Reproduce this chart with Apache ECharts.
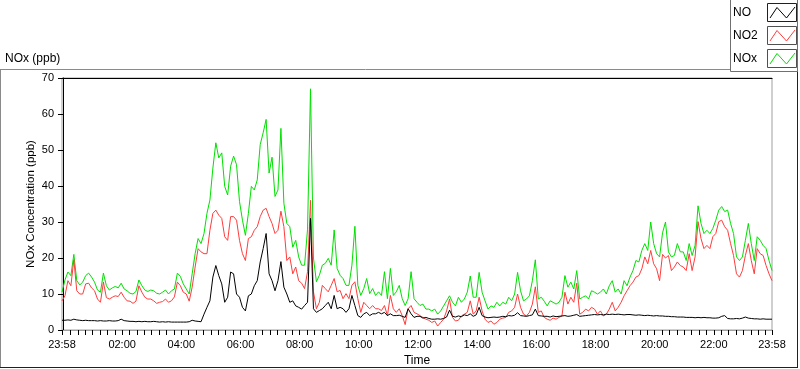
<!DOCTYPE html>
<html>
<head>
<meta charset="utf-8">
<script src="https://cdn.jsdelivr.net/npm/echarts@6/dist/echarts.min.js"></script>
<style>
html,body{margin:0;padding:0;background:#fff;}
#c{width:800px;height:369px;}
</style>
</head>
<body>
<div id="c"></div>
<script>
// Time grid: minutes from midnight, first sample at 23:58 (-2), one sample every 6 min
const T_START = -2;
const T_STEP = 6;
const xLabelValues = [-2, 120, 240, 360, 480, 600, 720, 840, 960, 1080, 1200, 1320, 1438];
const yTicks = [0, 10, 20, 30, 40, 50, 60, 70];
const seriesNames = ['NO', 'NO2', 'NOx'];

const NOx = [
 10.5, 13.9, 16.1, 15.1, 21, 13.7, 12.5, 13.3, 15.1, 15.8,
 14.7, 13.3, 11.1, 10.5, 15.8, 12.3, 11.1, 11.7, 12.1, 11.7,
 13.0, 11.4, 10.9, 10.2, 10.0, 10.7, 13.9, 12.3, 11.1, 10.7,
 11.1, 10.9, 10.2, 10.0, 10.5, 11.1, 10.0, 10.9, 11.4, 15.8,
 14.9, 12.8, 11.4, 10, 15.6, 21.2, 25.4, 24, 26.8, 32.4,
 36.1, 45, 52, 47.8, 49.2, 39.9, 37.5, 45.5, 48.3, 45.9,
 35.7, 30.5, 26.3, 32.4, 39.9, 38.9, 41.7, 51.5, 54.8, 58.5,
 43.6, 48, 37.1, 38.9, 56, 35.2, 29.6, 28.7, 23, 24.9,
 20.3, 18, 18, 28, 67, 20, 13.4, 15.2, 18, 18.5,
 19.9, 18, 27.8, 17.1, 15.2, 14.3, 12.4, 12.4, 18, 28.8,
 12.4, 9.6, 11.5, 14.3, 10.1, 11.5, 9.6, 10.6, 9.6, 16.2,
 8.7, 17.1, 9.6, 10.6, 12.4, 8.7, 6.8, 8.7, 16.2, 8.7,
 7.7, 6.8, 7.2, 5.8, 5.8, 5.3, 5.8, 4.4, 5.3, 6.7,
 8.1, 9.5, 7.7, 6.7, 9.1, 7.7, 8.6, 10.5, 15, 9.1,
 9.1, 16, 10.5, 8.1, 5.8, 6.7, 6.3, 7.7, 6.7, 7.7,
 7.2, 9.1, 8.1, 10, 16, 10.9, 8.1, 8.6, 9.5, 13.7,
 19.5, 8.6, 9.1, 8, 6.7, 8.1, 7.7, 7.2, 7.7, 9.1,
 15.1, 11.9, 13.3, 11.4, 16.5, 8.6, 9.1, 9.5, 8.6, 10.9,
 10.5, 10, 10.5, 11.4, 10, 12.3, 13.7, 10.5, 11.4, 10,
 13.7, 12.3, 14.7, 16.5, 19.3, 18.9, 22.1, 24, 22.1, 30,
 24, 21.2, 20.3, 27, 30, 21.7, 20.3, 20.7, 24, 21.7,
 21.7, 19.3, 24, 20.7, 23.5, 34.5, 29.6, 26.8, 27.7, 26.8,
 28.2, 30.5, 33.3, 34.3, 32.9, 33.3, 29.6, 26.8, 20.3, 19.3,
 20.3, 24.9, 29.6, 24, 19.3, 25.9, 24.9, 23.5, 22.6, 19.3,
 16.5
];

const NO2 = [
 8.1, 9.5, 13.7, 12.3, 19.5, 10.9, 10, 10, 12.8, 13,
 11.7, 10.9, 8.6, 7.7, 13.3, 9, 8.6, 9.1, 9.5, 9.3,
 10.5, 9.1, 8.1, 8, 7.4, 8, 12.3, 10.5, 9.1, 8.6,
 8.6, 8.1, 7.4, 7.7, 7.9, 8.6, 7.7, 8.1, 9.2, 13.3,
 12.3, 10.5, 10, 8, 11.9, 17.5, 22.6, 21.7, 21.2, 21.2,
 27.7, 32.4, 33.3, 31.9, 31, 25.9, 24.9, 31.5, 31.5, 30.5,
 24.9, 21.2, 19.3, 25.4, 25.9, 27.7, 28.7, 31.5, 33.3, 33.8,
 31.5, 29.6, 26.8, 27.7, 33, 28.7, 19.3, 20.3, 15.6, 17.5,
 13.7, 13, 11.5, 16.2, 36, 10.6, 5.9, 7.7, 12.4, 11.5,
 10.6, 12.4, 14.3, 10.6, 11, 8.7, 10.1, 8.7, 12.4, 13.4,
 8.7, 4.9, 7.7, 6.8, 5.9, 6.8, 5.9, 5.9, 5.4, 6.8,
 4, 9.6, 5.9, 4.9, 5.9, 4, 1.5, 5.9, 6.8, 4.9,
 4.5, 4, 3.5, 3, 2.7, 2.1, 2.5, 1.1, 2.1, 3,
 5.3, 8.6, 3.5, 2.5, 2.7, 3.9, 4.4, 4.9, 8.1, 4.4,
 5.3, 9.1, 5.3, 3, 2.1, 2.5, 1.6, 2.1, 3, 3.3,
 3.5, 4.9, 5.3, 6.3, 10, 6.3, 4.4, 3.9, 4.9, 7.2,
 12, 4.9, 5.3, 3.5, 3, 2.7, 3.3, 3, 3.5, 3.9,
 10.5, 7.2, 9.1, 7.7, 13, 4.4, 4.9, 5.8, 5.3, 6.3,
 5.8, 4.4, 5.3, 3.9, 4.4, 5.8, 7.7, 5.3, 6.3, 7.7,
 9.5, 10.9, 12.3, 13.3, 14.7, 15.1, 17, 20.3, 18.4, 22.1,
 18.4, 17, 13.7, 21, 20, 20.7, 16.5, 17.5, 18.9, 17.9,
 17.5, 16.5, 21.2, 16.5, 20.3, 30.1, 25.4, 22.6, 23.5, 22.6,
 25.9, 26.8, 30.1, 30.5, 28.7, 27.7, 24, 20.7, 15.6, 14.7,
 16.5, 20.7, 24, 19.3, 15.6, 22.6, 21.2, 20.7, 17.9, 15.6,
 13.7
];

const NO = [
 2.7, 2.7, 2.8, 2.7, 3.0, 2.8, 2.7, 2.6, 2.7, 2.6,
 2.6, 2.6, 2.5, 2.6, 2.5, 2.5, 2.6, 2.5, 2.5, 2.6,
 3.0, 2.6, 2.5, 2.4, 2.4, 2.3, 2.4, 2.3, 2.4, 2.3,
 2.3, 2.4, 2.3, 2.2, 2.3, 2.2, 2.3, 2.2, 2.2, 2.2,
 2.2, 2.2, 2.2, 2.3, 2.7, 2.5, 2.4, 2.3, 4.4, 6.3,
 8.1, 14.7, 17.9, 15.1, 12.8, 7.7, 9.1, 16.1, 15.6, 10,
 9.1, 6.3, 5.3, 9.5, 10, 12.3, 13.7, 18.9, 22.6, 26.8,
 15.6, 13.7, 10.9, 13.7, 19, 11.9, 10, 7.7, 8.1, 6.7,
 6.3, 5.8, 6.8, 7.7, 31, 5.9, 4.9, 5.4, 5.9, 6.8,
 7.7, 5.9, 9.6, 5.9, 6.3, 5.9, 4.9, 5.9, 9.6, 6.8,
 4, 3.5, 4.5, 4.9, 4, 4.5, 4.5, 4.9, 4.5, 4.9,
 4, 4.5, 4, 4, 4.1, 3.8, 3.5, 5.9, 4.5, 3.5,
 3.8, 3.8, 3.3, 3.5, 3.2, 3.0, 3.0, 3.1, 3.0, 3.2,
 3.6, 5.5, 3.8, 3.6, 3.9, 3.7, 4.2, 4.0, 4.5, 3.8,
 4.2, 6.3, 4.0, 3.6, 3.4, 3.5, 3.6, 3.5, 3.6, 3.8,
 3.7, 4.0, 3.9, 4.1, 4.8, 4.0, 3.9, 3.8, 4.0, 4.2,
 5.8, 4.0, 3.9, 3.8, 3.8, 3.6, 3.9, 3.7, 3.8, 3.9,
 4.0, 3.8, 3.9, 4.1, 4.3, 3.8, 3.9, 4.0, 4.1, 4.2,
 4.3, 4.2, 4.3, 4.2, 4.4, 4.3, 4.4, 4.3, 4.4, 4.3,
 4.2, 4.3, 4.3, 4.2, 4.1, 4.2, 4.1, 4.0, 4.1, 4.0,
 3.9, 4.0, 3.9, 3.9, 3.8, 3.8, 3.7, 3.7, 3.6, 3.6,
 3.6, 3.5, 3.5, 3.5, 3.4, 3.5, 3.4, 3.5, 3.4, 3.4,
 3.3, 3.3, 3.4, 3.8, 4.0, 3.2, 3.1, 3.1, 3.2, 3.1,
 3.3, 3.6, 3.3, 3.2, 3.1, 3.1, 3.0, 3.1, 3.0, 3.0,
 3.0
];

function toPairs(vals) {
  return vals.map((v, i) => [T_START + i * T_STEP, v]);
}
function pad(n) { return (n < 10 ? '0' : '') + n; }
function fmtTime(v) {
  if (v < 0 || v >= 1438) return '23:58';
  return pad(Math.floor(v / 60)) + ':' + pad(v % 60);
}
const tickValues = [-2];
for (let m = 15; m < 1438; m += 15) tickValues.push(m);
tickValues.push(1438);

const FONT = 'Liberation Sans';
const chart = echarts.init(document.getElementById('c'), null, {renderer: 'canvas'});

const swatchY = [3.5, 26.5, 49.5];
const colors = {NO: '#000000', NO2: '#ff3c3c', NOx: '#00e000'};
const legendGraphics = [];
legendGraphics.push({type: 'rect', shape: {x: 730.5, y: -1, width: 67, height: 72.5},
  style: {fill: '#fff', stroke: '#707070', lineWidth: 1}, z: 100});
seriesNames.forEach((n, k) => {
  const y0 = swatchY[k];
  legendGraphics.push({type: 'rect', shape: {x: 767.5, y: y0, width: 29, height: 18},
    style: {fill: '#fff', stroke: k === 0 ? '#202020' : '#505050', lineWidth: 1}, z: 101});
  legendGraphics.push({type: 'polyline', shape: {points: [[770, y0 + 14.5], [777, y0 + 4], [786.5, y0 + 14.5], [795, y0 + 3.5]]},
    style: {stroke: colors[n], lineWidth: 1, fill: null}, z: 102});
  legendGraphics.push({type: 'text', x: 733, y: y0 + 9.5,
    style: {text: n, fill: '#000', font: '12px "' + FONT + '"', textVerticalAlign: 'middle', textAlign: 'left'}, z: 102});
});

const option = {
  animation: false,
  backgroundColor: '#ffffff',
  textStyle: {fontFamily: FONT},
  graphic: [
    {type: 'line', shape: {x1: 0, y1: 69.5, x2: 731, y2: 69.5}, style: {stroke: '#8a8a8a', lineWidth: 1}, z: 50},
    {type: 'line', shape: {x1: 0.5, y1: 69.5, x2: 0.5, y2: 367.5}, style: {stroke: '#8a8a8a', lineWidth: 1}, z: 50},
    {type: 'line', shape: {x1: 0, y1: 367.5, x2: 798, y2: 367.5}, style: {stroke: '#202020', lineWidth: 1}, z: 50},
    {type: 'line', shape: {x1: 797.5, y1: 71, x2: 797.5, y2: 368}, style: {stroke: '#202020', lineWidth: 1}, z: 50},
    {type: 'text', x: 5, y: 58.5, style: {text: 'NOx (ppb)', fill: '#000', font: '12px "' + FONT + '"', textVerticalAlign: 'middle'}, z: 50}
  ].concat(legendGraphics),
  grid: {left: 62, right: 28, top: 78, bottom: 39, show: true, borderColor: '#a0a0a0', borderWidth: 1,
    backgroundColor: '#fff', containLabel: false, outerBoundsMode: 'none'},
  xAxis: [{
    type: 'value', min: -2, max: 1438, position: 'bottom',
    name: 'Time', nameLocation: 'middle', nameGap: 25, nameMoveOverlap: false,
    nameTextStyle: {color: '#000', fontSize: 12, fontFamily: FONT},
    axisLine: {show: true, lineStyle: {color: '#a0a0a0', width: 1}},
    axisTick: {show: true, customValues: tickValues, length: 5, lineStyle: {color: '#000'}},
    axisLabel: {customValues: xLabelValues, formatter: fmtTime, color: '#000', fontSize: 11, fontFamily: FONT, margin: 9},
    splitLine: {show: false}
  }, {
    type: 'value', min: -2, max: 1438, position: 'top',
    axisLine: {show: true, lineStyle: {color: '#000', width: 1}},
    axisTick: {show: false}, axisLabel: {show: false}, splitLine: {show: false}
  }],
  yAxis: {
    type: 'value', min: 0, max: 70, interval: 10,
    name: 'NOx Concentration (ppb)', nameLocation: 'middle', nameGap: 25, nameRotate: 90, nameMoveOverlap: false,
    nameTextStyle: {color: '#000', fontSize: 11.5, fontFamily: FONT},
    axisLine: {show: true, lineStyle: {color: '#000', width: 1}},
    axisTick: {show: true, length: 5, lineStyle: {color: '#000'}},
    axisLabel: {color: '#000', fontSize: 11, fontFamily: FONT, margin: 8,
      customValues: yTicks},
    splitLine: {show: false}
  },
  series: [
    {name: 'NOx', type: 'line', data: toPairs(NOx), showSymbol: false, symbol: 'none',
      lineStyle: {color: colors.NOx, width: 1}, itemStyle: {color: colors.NOx}, z: 2},
    {name: 'NO2', type: 'line', data: toPairs(NO2), showSymbol: false, symbol: 'none',
      lineStyle: {color: colors.NO2, width: 1}, itemStyle: {color: colors.NO2}, z: 3},
    {name: 'NO', type: 'line', data: toPairs(NO), showSymbol: false, symbol: 'none',
      lineStyle: {color: colors.NO, width: 1}, itemStyle: {color: colors.NO}, z: 4}
  ]
};
chart.setOption(option);
</script>
</body>
</html>
